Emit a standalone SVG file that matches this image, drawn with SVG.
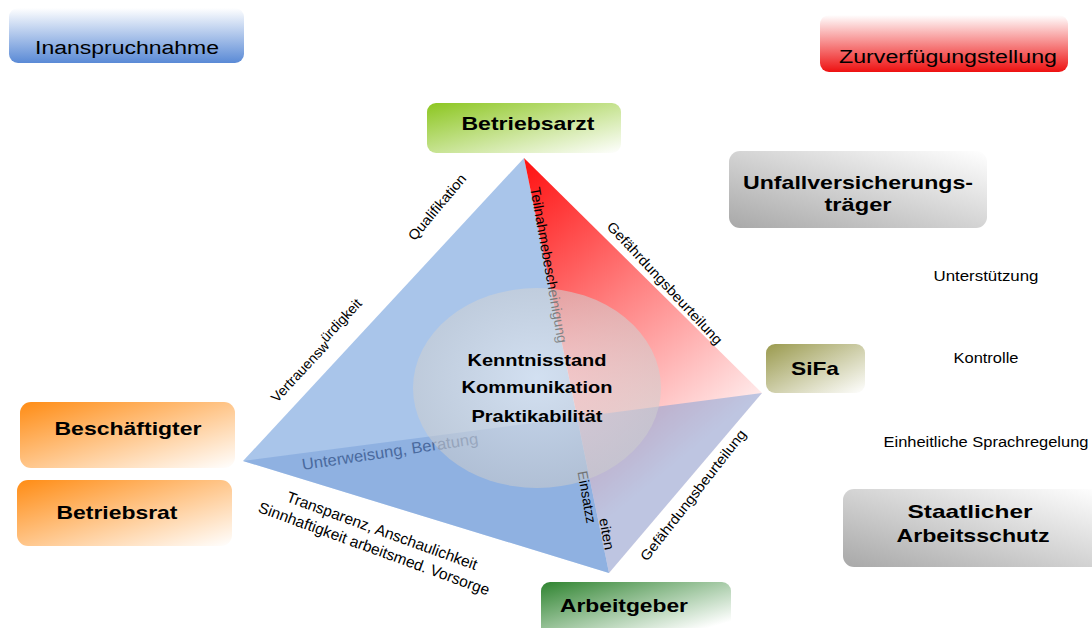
<svg xmlns="http://www.w3.org/2000/svg" width="1092" height="628" viewBox="0 0 1092 628">
<defs>
<linearGradient id="gBlue" x1="0" y1="0" x2="0" y2="1"><stop offset="0" stop-color="#ffffff"/><stop offset="1" stop-color="#5a8ad6"/></linearGradient>
<linearGradient id="gRed" x1="0" y1="0" x2="0" y2="1"><stop offset="0" stop-color="#ffffff"/><stop offset="1" stop-color="#ee1111"/></linearGradient>
<linearGradient id="gGreen" x1="0" y1="0" x2="1" y2="1"><stop offset="0" stop-color="#8cc620"/><stop offset="1" stop-color="#ffffff"/></linearGradient>
<linearGradient id="gDark" x1="0" y1="0" x2="1" y2="1"><stop offset="0" stop-color="#2f8430"/><stop offset="0.85" stop-color="#ffffff"/></linearGradient>
<linearGradient id="gOlive" x1="0" y1="0" x2="1" y2="1"><stop offset="0" stop-color="#9a9a4e"/><stop offset="1" stop-color="#ffffff"/></linearGradient>
<linearGradient id="gOrange" x1="0" y1="0" x2="1" y2="1"><stop offset="0" stop-color="#ff8c14"/><stop offset="1" stop-color="#ffffff"/></linearGradient>
<linearGradient id="gGray" x1="0" y1="1" x2="1" y2="0"><stop offset="0" stop-color="#a8a8a8"/><stop offset="1" stop-color="#ffffff"/></linearGradient>
<linearGradient id="gFace" gradientUnits="userSpaceOnUse" x1="524" y1="170" x2="730" y2="420"><stop offset="0" stop-color="#ff1616"/><stop offset="0.5" stop-color="#ff8282"/><stop offset="1" stop-color="#ffeaea"/></linearGradient>
<radialGradient id="gEll" cx="0.5" cy="0.45" r="0.6"><stop offset="0" stop-color="#eef2f6" stop-opacity="0.6"/><stop offset="1" stop-color="#c8c8c8" stop-opacity="0.55"/></radialGradient>
<style>
.nb{font-family:"Liberation Sans",Arial,sans-serif;font-weight:bold;font-size:19px;fill:#000;text-anchor:middle}
.nr{font-family:"Liberation Sans",Arial,sans-serif;font-size:18px;fill:#000;text-anchor:middle}
.lb{font-family:"Liberation Sans",Arial,sans-serif;font-size:14px;fill:#000;text-anchor:middle}
.sm{font-family:"Liberation Sans",Arial,sans-serif;font-size:14px;fill:#000;text-anchor:middle}
.ct{font-family:"Liberation Sans",Arial,sans-serif;font-weight:bold;font-size:17px;fill:#000;text-anchor:middle}
</style>
</defs>
<rect width="1092" height="628" fill="#ffffff"/>

<g id="pyramid">
<polygon points="524,158 243,461 609,573" fill="#a9c5ea"/>
<polygon points="524,158 609,573 762,393" fill="url(#gFace)"/>
<polygon points="243,461 609,573 762,393" fill="#6e98d8" fill-opacity="0.45"/>
</g>

<g id="connectors">
<text class="lb" transform="translate(549,265) rotate(80)" dy="5" textLength="158" lengthAdjust="spacingAndGlyphs">Teilnahmebescheinigung</text>
<text class="lb" style="font-size:16px;fill:#4a6a9e" transform="translate(390,452) rotate(-8.5)" dy="5" textLength="178" lengthAdjust="spacingAndGlyphs">Unterweisung, Beratung</text>
<text class="lb" transform="translate(587,497) rotate(80)" dy="5" textLength="53" lengthAdjust="spacingAndGlyphs">Einsatzz</text>
<text class="lb" transform="translate(607,534) rotate(80)" dy="5" textLength="32" lengthAdjust="spacingAndGlyphs">eiten</text>
</g>

<g id="center">
<ellipse cx="537" cy="388" rx="124" ry="100" fill="url(#gEll)"/>
<text class="ct" x="537" y="366" textLength="139" lengthAdjust="spacingAndGlyphs">Kenntnisstand</text>
<text class="ct" x="537" y="393" textLength="151" lengthAdjust="spacingAndGlyphs">Kommunikation</text>
<text class="ct" x="537" y="422" textLength="131" lengthAdjust="spacingAndGlyphs">Praktikabilität</text>
</g>

<g id="edge-labels">
<text class="lb" transform="translate(437,207) rotate(-50)" dy="5" textLength="82" lengthAdjust="spacingAndGlyphs">Qualifikation</text>
<text class="lb" transform="translate(318,352) rotate(-47)" dy="5">Vertrauensw<tspan dy="-5">ürdigkeit</tspan></text>
<text class="lb" transform="translate(665,283) rotate(47)" dy="5" textLength="162" lengthAdjust="spacingAndGlyphs">Gefährdungsbeurteilung</text>
<text class="lb" transform="translate(693,495) rotate(-52)" dy="5" textLength="162" lengthAdjust="spacingAndGlyphs">Gefährdungsbeurteilung</text>
<text class="lb" style="font-size:15.5px" transform="translate(382,531) rotate(20)" dy="5">Transparenz, Anschaulichkeit</text>
<text class="lb" style="font-size:15.5px" transform="translate(374,549) rotate(20)" dy="5">Sinnhaftigkeit arbeitsmed. Vorsorge</text>
<text class="sm" x="986" y="281" textLength="105" lengthAdjust="spacingAndGlyphs">Unterstützung</text>
<text class="sm" x="986" y="363" textLength="65" lengthAdjust="spacingAndGlyphs">Kontrolle</text>
<text class="sm" x="986" y="447" textLength="205" lengthAdjust="spacingAndGlyphs">Einheitliche Sprachregelung</text>
</g>

<g id="inanspruchnahme">
<rect x="9" y="8" width="235" height="55" rx="9" fill="url(#gBlue)"/>
<text class="nr" x="127" y="54" textLength="184" lengthAdjust="spacingAndGlyphs">Inanspruchnahme</text>
</g>
<g id="zurverfuegungstellung">
<rect x="820" y="15" width="248" height="57" rx="9" fill="url(#gRed)"/>
<text class="nr" x="948" y="63" textLength="218" lengthAdjust="spacingAndGlyphs">Zurverfügungstellung</text>
</g>
<g id="betriebsarzt">
<rect x="427" y="103" width="194" height="50" rx="9" fill="url(#gGreen)"/>
<text class="nb" x="528" y="130" textLength="133" lengthAdjust="spacingAndGlyphs">Betriebsarzt</text>
</g>
<g id="unfallversicherungstraeger">
<rect x="729" y="151" width="258" height="77" rx="11" fill="url(#gGray)"/>
<text class="nb" x="858" y="189" textLength="230" lengthAdjust="spacingAndGlyphs">Unfallversicherungs-</text>
<text class="nb" x="858" y="211" textLength="67" lengthAdjust="spacingAndGlyphs">träger</text>
</g>
<g id="sifa">
<rect x="766" y="344" width="99" height="49" rx="9" fill="url(#gOlive)"/>
<text class="nb" x="815" y="375" textLength="48" lengthAdjust="spacingAndGlyphs">SiFa</text>
</g>
<g id="beschaeftigter">
<rect x="20" y="402" width="215" height="66" rx="11" fill="url(#gOrange)"/>
<text class="nb" x="128" y="435" textLength="147" lengthAdjust="spacingAndGlyphs">Beschäftigter</text>
</g>
<g id="betriebsrat">
<rect x="17" y="480" width="215" height="66" rx="11" fill="url(#gOrange)"/>
<text class="nb" x="117" y="519" textLength="121" lengthAdjust="spacingAndGlyphs">Betriebsrat</text>
</g>
<g id="arbeitgeber">
<rect x="541" y="582" width="190" height="56" rx="9" fill="url(#gDark)"/>
<text class="nb" x="624" y="612" textLength="128" lengthAdjust="spacingAndGlyphs">Arbeitgeber</text>
</g>
<g id="staatlicher-arbeitsschutz">
<rect x="843" y="489" width="259" height="78" rx="11" fill="url(#gGray)"/>
<text class="nb" x="970" y="518" textLength="125" lengthAdjust="spacingAndGlyphs">Staatlicher</text>
<text class="nb" x="973" y="542" textLength="153" lengthAdjust="spacingAndGlyphs">Arbeitsschutz</text>
</g>
</svg>
